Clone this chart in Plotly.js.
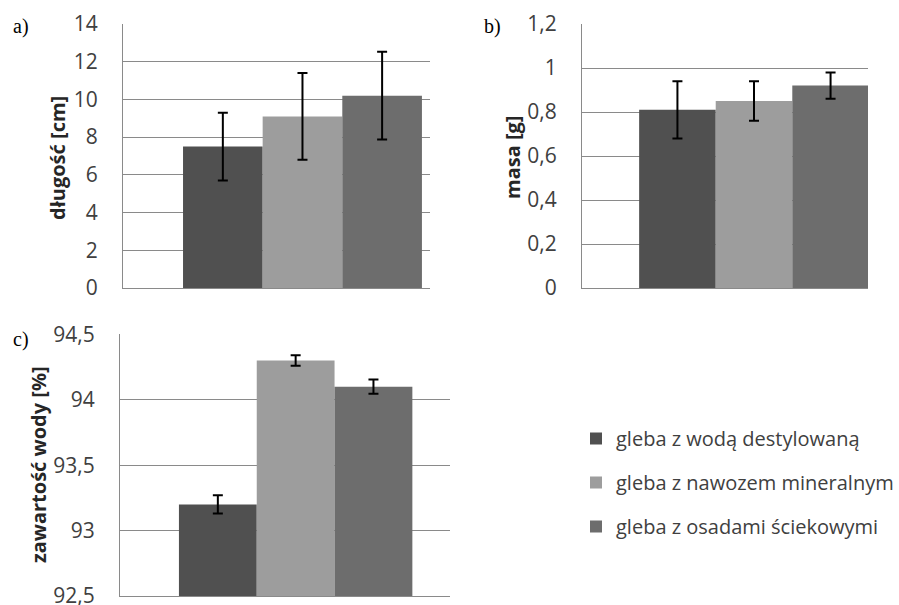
<!DOCTYPE html>
<html>
<head>
<meta charset="utf-8">
<script src="https://cdn.plot.ly/plotly-3.0.1.min.js"></script>
<style>html,body{margin:0;padding:0;background:#fff;}#chart{width:899px;height:605px;}</style>
</head>
<body>
<div id="chart"></div>
<script>
// ---- data ----
const seriesNames = ["gleba z wodą destylowaną", "gleba z nawozem mineralnym", "gleba z osadami ściekowymi"];
const category = ["próba"];
const lengthValues = [7.5, 9.1, 10.2];
const lengthErrors = [1.8, 2.3, 2.33];
const massValues = [0.81, 0.85, 0.92];
const massErrors = [0.13, 0.09, 0.06];
const waterValues = [93.2, 94.3, 94.1];
const waterErrors = [0.07, 0.04, 0.055];
const panelTitles = ["długość [cm]", "masa [g]", "zawartość wody [%]"];
const panelLabels = ["a)", "b)", "c)"];

// ---- style ----
const colors = ["#505050", "#9d9d9d", "#6d6d6d"];
const W = 899, H = 605;
const fontFam = "'Open Sans', Lato, sans-serif";

const panels = [
  {vals: lengthValues, errs: lengthErrors, xa: "x", ya: "y"},
  {vals: massValues, errs: massErrors, xa: "x2", ya: "y2"},
  {vals: waterValues, errs: waterErrors, xa: "x3", ya: "y3"}
];

const traces = [];
panels.forEach((p, pi) => {
  seriesNames.forEach((name, si) => {
    traces.push({
      type: "bar",
      name: name,
      x: category,
      y: [p.vals[si]],
      xaxis: p.xa,
      yaxis: p.ya,
      marker: {color: colors[si], line: {width: 0}},
      error_y: {type: "data", array: [p.errs[si]], visible: true, color: "#000", thickness: 2, width: 5},
      showlegend: pi === 0,
      legendgroup: "g" + si,
      hoverinfo: "skip"
    });
  });
});

function yax(domain, range, dtick) {
  return {
    domain: domain, range: range, dtick: dtick, tick0: 0,
    showgrid: true, gridcolor: "#8a8a8a", gridwidth: 1,
    showline: true, linecolor: "#8a8a8a", linewidth: 1,
    zeroline: false, ticks: "", ticklabelstandoff: 20,
    ticklabeloverflow: "allow",
    tickfont: {family: fontFam, size: 21, color: "#404040"},
    fixedrange: true
  };
}
function xax(domain, range, anchor) {
  return {
    domain: domain, range: range, anchor: anchor, type: "category",
    showticklabels: false, showgrid: false, zeroline: false,
    showline: true, linecolor: "#8a8a8a", linewidth: 1, ticks: "",
    fixedrange: true
  };
}

const layout = {
  width: W, height: H,
  margin: {l: 0, r: 0, t: 0, b: 0, autoexpand: false},
  paper_bgcolor: "#fff", plot_bgcolor: "rgba(0,0,0,0)",
  separators: ", ",
  barmode: "group", bargap: 0.2, bargroupgap: 0,
  showlegend: true,
  legend: {
    x: 576 / W, y: 1 - 419 / H, xanchor: "left", yanchor: "top",
    font: {family: fontFam, size: 20, color: "#404040"},
    tracegroupgap: 15, itemwidth: 30, bgcolor: "rgba(0,0,0,0)"
  },
  xaxis: xax([123 / W, 430 / W], [-0.601, 0.427], "y"),
  yaxis: Object.assign(yax([1 - 288 / H, 1 - 24 / H], [0, 14], 2), {anchor: "x"}),
  xaxis2: xax([582 / W, 868 / W], [-0.599, 0.397], "y2"),
  yaxis2: Object.assign(yax([1 - 288 / H, 1 - 24 / H], [0, 1.2], 0.2), {anchor: "x2"}),
  xaxis3: xax([120 / W, 450 / W], [-0.602, 0.529], "y3"),
  yaxis3: Object.assign(yax([1 - 596 / H, 1 - 334.3 / H], [92.5, 94.5], 0.5), {anchor: "x3", tick0: 92.5}),
  annotations: [
    {text: panelTitles[0], x: 57 / W, y: 1 - 158 / H},
    {text: panelTitles[1], x: 512 / W, y: 1 - 158 / H},
    {text: panelTitles[2], x: 38 / W, y: 1 - 465 / H}
  ].map(a => Object.assign(a, {
    xref: "paper", yref: "paper", showarrow: false, textangle: -90,
    xanchor: "center", yanchor: "middle",
    font: {family: fontFam, size: 20, color: "#262626", weight: "bold"}
  })).concat([
    {text: panelLabels[0], x: 11 / W, y: 1 - 27 / H},
    {text: panelLabels[1], x: 482 / W, y: 1 - 27 / H},
    {text: panelLabels[2], x: 11 / W, y: 1 - 339 / H}
  ].map(a => Object.assign(a, {
    xref: "paper", yref: "paper", showarrow: false,
    xanchor: "left", yanchor: "middle",
    font: {family: "'Liberation Serif', 'DejaVu Serif', serif", size: 20, color: "#000"}
  })))
};

Plotly.newPlot("chart", traces, layout, {displayModeBar: false, staticPlot: true});
</script>
</body>
</html>
